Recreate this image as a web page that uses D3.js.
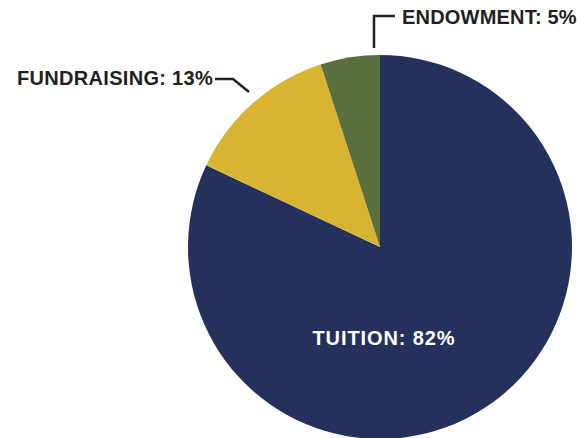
<!DOCTYPE html>
<html><head><meta charset="utf-8">
<script src="https://cdn.jsdelivr.net/npm/d3@7"></script>
<style>body{margin:0;background:#fff}svg{display:block}</style>
</head><body>
<svg id="c" width="586" height="438"></svg>
<script>
const categories = ["TUITION", "FUNDRAISING", "ENDOWMENT"];
const values = [82, 13, 5];
const colors = ["#23315c", "#d8b431", "#5b6e3e"];

const svg = d3.select("#c");
const cx = 380, cy = 247, R = 192;
const g = svg.append("g").attr("transform", `translate(${cx},${cy})`);
const pie = d3.pie().sort(null).value(d => d)(values);
const arc = d3.arc().innerRadius(0).outerRadius(R);
g.selectAll("path").data(pie).join("path")
  .attr("d", arc).attr("fill", (d, i) => colors[i]);

const font = "'Liberation Sans', Arial, sans-serif";
// Tuition label (inside)
g.append("text").attr("x", 4).attr("y", 98).attr("text-anchor", "middle")
  .attr("font-family", font).attr("font-weight", "bold").attr("font-size", 20)
  .attr("letter-spacing", 0.9)
  .attr("fill", "#fff").text(`${categories[0]}: ${values[0]}%`);

// Fundraising leader
const ink = "#231f20";
g.append("polyline").attr("points", [[-165, -168], [-147, -168], [-131, -155]].map(p => p.join(",")).join(" "))
  .attr("fill", "none").attr("stroke", ink).attr("stroke-width", 2.5);
g.append("text").attr("x", -167).attr("y", -162).attr("text-anchor", "end")
  .attr("font-family", font).attr("font-weight", "bold").attr("font-size", 20)
  .attr("letter-spacing", 0.3)
  .attr("fill", ink).text(`${categories[1]}: ${values[1]}%`);

// Endowment leader
g.append("polyline").attr("points", [[-6, -199], [-6, -231], [15, -231]].map(p => p.join(",")).join(" "))
  .attr("fill", "none").attr("stroke", ink).attr("stroke-width", 2.5);
g.append("text").attr("x", 22).attr("y", -223).attr("text-anchor", "start")
  .attr("font-family", font).attr("font-weight", "bold").attr("font-size", 20)
  .attr("letter-spacing", 0.2)
  .attr("fill", ink).text(`${categories[2]}: ${values[2]}%`);
</script>
</body></html>
